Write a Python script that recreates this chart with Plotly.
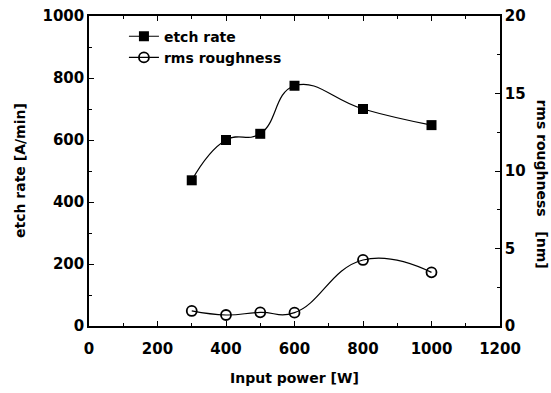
import plotly.graph_objects as go

power = [300, 400, 500, 600, 800, 1000]
etch_rate = [470, 600, 620, 775, 700, 648]
rms_roughness = [0.97, 0.71, 0.88, 0.86, 4.26, 3.46]

FONT = "DejaVu Sans, Liberation Sans, Arial, sans-serif"

fig = go.Figure()
fig.add_trace(go.Scatter(
    x=power, y=etch_rate, name="etch rate", mode="lines+markers",
    line=dict(color="black", width=1.2, shape="spline", smoothing=1.3),
    marker=dict(symbol="square", size=10, color="black"),
))
fig.add_trace(go.Scatter(
    x=power, y=rms_roughness, name="rms roughness", mode="lines+markers",
    yaxis="y2",
    line=dict(color="black", width=1.2, shape="spline", smoothing=1.3),
    marker=dict(symbol="circle-open", size=10, color="black", line=dict(width=1.8)),
))

tickfont = dict(family=FONT, size=15, color="black", weight="bold")
labfont = dict(family=FONT, size=14, color="black", weight="bold")

common = dict(showgrid=False, zeroline=False, showline=True, linecolor="black", linewidth=1.5,
              ticks="inside", ticklen=5, tickwidth=1.2, tickcolor="black",
              tickfont=tickfont, automargin=False, ticklabeloverflow="allow")

fig.update_layout(
    width=551, height=393,
    margin=dict(l=89, r=51, t=16, b=67, autoexpand=False),
    paper_bgcolor="white", plot_bgcolor="white",
    showlegend=True,
    legend=dict(x=0.085, y=0.985, xanchor="left", yanchor="top",
                bgcolor="rgba(0,0,0,0)", font=labfont,
                tracegroupgap=0, itemwidth=30),
    xaxis=dict(
        range=[0, 1200], tickvals=[0, 200, 400, 600, 800, 1000, 1200],
        mirror="ticks", ticklabelstandoff=8,
        minor=dict(ticks="inside", ticklen=3, dtick=100, tickcolor="black", showgrid=False),
        **common,
    ),
    yaxis=dict(
        range=[0, 1000], tickvals=[0, 200, 400, 600, 800, 1000],
        minor=dict(ticks="inside", ticklen=3, dtick=100, tickcolor="black", showgrid=False),
        **common,
    ),
    yaxis2=dict(
        range=[0, 20], tickvals=[0, 5, 10, 15, 20], overlaying="y", side="right",
        minor=dict(ticks="inside", ticklen=3, dtick=2.5, tickcolor="black", showgrid=False),
        **common,
    ),
    annotations=[
        dict(text="Input power [W]", xref="paper", yref="paper", x=0.5, y=0, yshift=-52,
             showarrow=False, xanchor="center", yanchor="middle", font=labfont),
        dict(text="etch rate [A/min]", textangle=-90, xref="paper", yref="paper",
             x=0, xshift=-69, y=0.50, showarrow=False, xanchor="center", yanchor="middle",
             font=labfont),
        dict(text="rms roughness   [nm]", textangle=90, xref="paper", yref="paper",
             x=1.0, xshift=42, y=0.46, showarrow=False, xanchor="center", yanchor="middle",
             font=labfont),
    ],
)

fig.write_html(
    "out.html",
    config={"displayModeBar": False},
    post_script="document.body.style.margin='0';document.body.style.overflow='hidden';",
)
